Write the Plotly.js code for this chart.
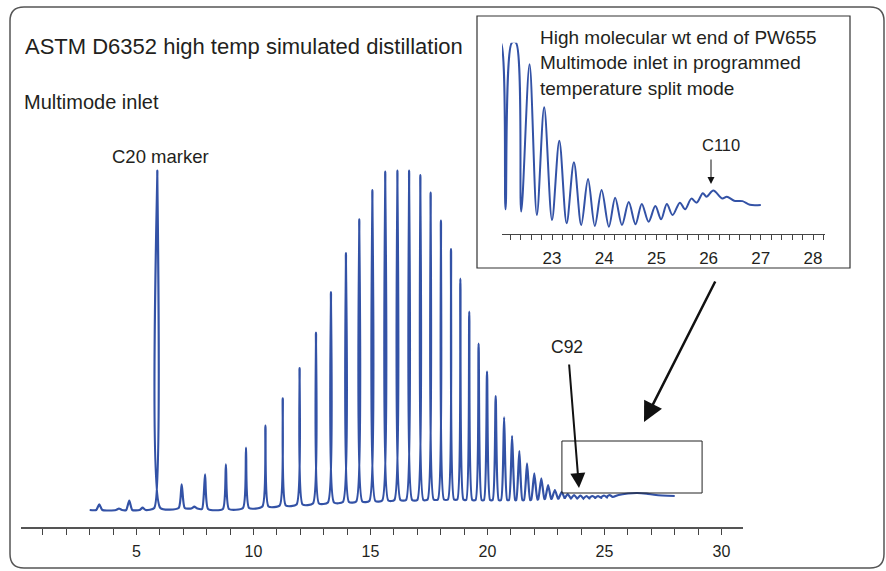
<!DOCTYPE html>
<html>
<head>
<meta charset="utf-8">
<script src="https://cdn.plot.ly/plotly-3.0.1.min.js"></script>
<style>html,body{margin:0;padding:0;background:#fff;}#chart{width:886px;height:571px;}</style>
</head>
<body>
<div id="chart"></div>
<script>
// ---- Main chromatogram: peaks (retention time, min; apex signal; local baseline) ----
const peakTime   = [3.41, 4.25, 4.69, 5.26, 5.89, 6.93, 7.47, 7.93, 8.82, 9.68, 10.51, 11.25, 11.97, 12.67, 13.31, 13.95, 14.52, 15.08, 15.63, 16.15, 16.65, 17.13, 17.57, 18.01, 18.44, 18.84, 19.22, 19.62, 19.98, 20.35, 20.71, 21.05, 21.36, 21.69, 22.00, 22.30, 22.59, 22.88, 23.17, 23.43, 23.70, 23.97, 24.23, 24.48, 24.73, 24.98, 25.22];
const peakHeight = [5.7, 1.5, 9.3, 2.3, 339.3, 25.7, 3.3, 35.7, 45.7, 62.3, 84.3, 111.7, 142, 177.5, 218, 257, 290.7, 320, 338.3, 339.3, 339.3, 335, 317.3, 289.3, 260.8, 231.3, 198.3, 166.3, 138.5, 114, 92.7, 74, 59, 46.7, 36.7, 31.7, 25, 20, 18, 16, 15, 14.5, 14, 14, 14, 14.5, 15];
const peakBase   = [0, 0, 0, 0, 2, 2, 1.5, 1, 1, 2, 3.5, 4.5, 5.5, 6.5, 7.5, 8, 8.5, 9, 9.5, 10, 10, 10, 10.5, 10.5, 10.5, 10.5, 10, 10, 10, 10, 10, 10, 10, 10, 10.5, 11, 11, 11.5, 11.5, 11.5, 11.5, 11.5, 11.5, 12, 12, 12.5, 13];
const leadTime   = [3.0];
const leadLevel  = [0];
const tailTime   = [25.6, 26.0, 26.4, 26.8, 27.2, 28.0];
const tailLevel  = [15, 16.5, 17, 16.3, 15, 14];

// ---- Inset: high molecular weight end (turning points) ----
const insetTime   = [21.96, 22.02, 22.11, 22.23, 22.31, 22.41, 22.57, 22.71, 22.85, 23.00, 23.14, 23.28, 23.42, 23.56, 23.69, 23.82, 23.95, 24.09, 24.21, 24.34, 24.47, 24.60, 24.72, 24.85, 24.98, 25.09, 25.20, 25.31, 25.45, 25.55, 25.67, 25.77, 25.89, 25.96, 26.09, 26.26, 26.35, 26.49, 26.65, 26.79, 27.00];
const insetSignal = [100, 100, 12.9, 100, 100, 11.7, 88.7, 9.9, 66.2, 7.3, 48.8, 5.6, 37.5, 4.7, 28.7, 4.2, 23.0, 3.8, 19.0, 4.7, 16.7, 5.1, 15.7, 6.4, 14.6, 7.7, 15.7, 9.9, 16.4, 12.9, 18.5, 16.4, 21.3, 19.5, 22.7, 18.6, 19.5, 17.4, 17.2, 15.3, 15.2];

// ---- tick labels ----
const mainTickVals = [5, 10, 15, 20, 25, 30];
const insetTickVals = [23, 24, 25, 26, 27, 28];

// ---- layout geometry (pixels) ----
const W = 886, H = 571, ML = 21, MR = 30, MT = 10, MB = 44;
const PW = W - ML - MR, PH = H - MT - MB;
const px = x => (x - ML) / PW;
const py = y => (H - MB - y) / PH;

const HALF = 0.13;
const mx = [...leadTime], my = [...leadLevel];
for (let i = 0; i < peakTime.length; i++) {
  mx.push(peakTime[i] - HALF, peakTime[i], peakTime[i] + HALF);
  my.push(peakBase[i], peakHeight[i], peakBase[i]);
}
mx.push(...tailTime); my.push(...tailLevel);

const blue = '#3352a6';
const txt = '#231f20';
const FONT = 'Liberation Sans, Arial, sans-serif';
const NARROW = 'Liberation Sans Narrow, Arial Narrow, Liberation Sans, sans-serif';

const traces = [
  {x: mx, y: my, type: 'scatter', mode: 'lines', line: {color: blue, width: 2.2, shape: 'spline', smoothing: 0.55}, xaxis: 'x', yaxis: 'y', hoverinfo: 'skip'},
  {x: insetTime, y: insetSignal, type: 'scatter', mode: 'lines', line: {color: blue, width: 2, shape: 'spline', smoothing: 0.9}, xaxis: 'x2', yaxis: 'y2', hoverinfo: 'skip'}
];

const L = 10, T = 7, R = 884, B = 568, r = 14;
const framePath = `M ${px(L+r)},${py(T)} L ${px(R-r)},${py(T)} Q ${px(R)},${py(T)} ${px(R)},${py(T+r)} L ${px(R)},${py(B-r)} Q ${px(R)},${py(B)} ${px(R-r)},${py(B)} L ${px(L+r)},${py(B)} Q ${px(L)},${py(B)} ${px(L)},${py(B-r)} L ${px(L)},${py(T+r)} Q ${px(L)},${py(T)} ${px(L+r)},${py(T)} Z`;

function label(text, x, y, size, family) {
  return {text: text, xref: 'paper', yref: 'paper', x: px(x), y: py(y), xanchor: 'left', yanchor: 'middle', showarrow: false, font: {family: family || FONT, size: size, color: txt}};
}
function arrow(tx, ty, hx, hy, width, size) {
  return {text: '', xref: 'paper', yref: 'paper', x: px(hx), y: py(hy), ax: tx - hx, ay: ty - hy, showarrow: true, arrowhead: 2, arrowsize: size, arrowwidth: width, arrowcolor: '#111', standoff: 0};
}

const layout = {
  width: W, height: H,
  margin: {l: ML, r: MR, t: MT, b: MB, pad: 0},
  paper_bgcolor: '#fff', plot_bgcolor: 'rgba(0,0,0,0)',
  showlegend: false,
  xaxis: {domain: [0, px(743)], range: [(21 - 19.5) / 23.4, (743 - 19.5) / 23.4], anchor: 'y',
          showgrid: false, zeroline: false, showline: true, linecolor: '#555', linewidth: 1.5,
          ticks: 'outside', tickvals: mainTickVals, ticklen: 6, tickcolor: '#444', tickwidth: 1,
          minor: {dtick: 1, tick0: 0, ticks: 'outside', ticklen: 6, tickcolor: '#444', tickwidth: 1, showgrid: false},
          tickfont: {family: NARROW, size: 16, color: txt}, ticklabelstandoff: 3, fixedrange: true},
  yaxis: {domain: [0, py(160)], range: [-17, 350], visible: false, fixedrange: true, anchor: 'x'},
  xaxis2: {domain: [px(502), px(825)], range: [23 - 50 / 52.2, 23 + 273 / 52.2], anchor: 'y2',
          showgrid: false, zeroline: false, showline: true, linecolor: '#444', linewidth: 1.2,
          ticks: 'outside', tickvals: insetTickVals, ticklen: 5, tickcolor: '#444', tickwidth: 1,
          minor: {dtick: 0.2, tick0: 22, ticks: 'outside', ticklen: 5, tickcolor: '#444', tickwidth: 1, showgrid: false},
          tickfont: {family: FONT, size: 17, color: txt}, ticklabelstandoff: 3, fixedrange: true},
  yaxis2: {domain: [py(234), py(42.7)], range: [0, 100], visible: false, fixedrange: true, anchor: 'x2'},
  shapes: [
    {type: 'path', xref: 'paper', yref: 'paper', path: framePath, line: {color: '#555', width: 1.5}},
    {type: 'rect', xref: 'paper', yref: 'paper', x0: px(477), x1: px(850), y0: py(268), y1: py(16), line: {color: '#333', width: 1.2}},
    {type: 'rect', xref: 'x', yref: 'y', x0: 23.18, x1: 29.17, y0: 17, y1: 69, line: {color: '#222', width: 1}}
  ],
  annotations: [
    label('ASTM D6352 high temp simulated distillation', 23, 46, 22),
    label('Multimode inlet', 22, 102, 20),
    label('C20 marker', 110, 156, 18.5),
    label('C92', 549, 347, 17.5),
    label('High molecular wt end of PW655', 538, 37, 19),
    label('Multimode inlet in programmed', 538, 63, 19),
    label('temperature split mode', 538, 89, 19),
    label('C110', 700, 145, 16.5),
    arrow(569, 363, 579, 488, 2, 1.5),
    arrow(716, 280, 644, 422, 2.5, 1.6),
    arrow(711, 158, 711, 184, 1, 1.4)
  ]
};

Plotly.newPlot('chart', traces, layout, {staticPlot: true, displayModeBar: false});
</script>
</body>
</html>
